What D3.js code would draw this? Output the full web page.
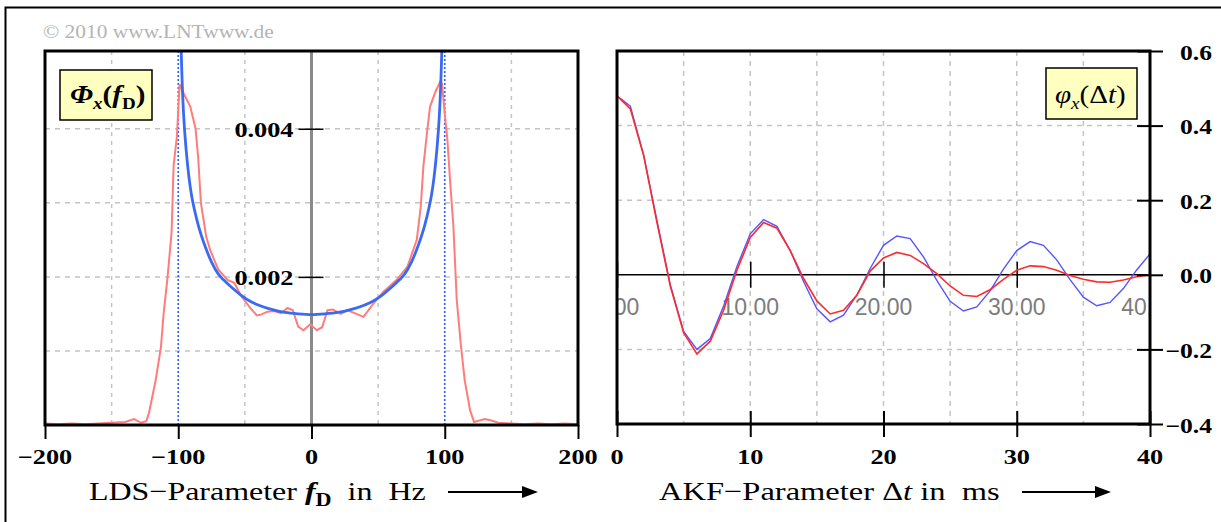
<!DOCTYPE html>
<html>
<head>
<meta charset="utf-8">
<script src="https://cdn.jsdelivr.net/npm/d3@7"></script>
<style>
  body { margin: 0; background: #fff; }
  svg { display: block; }
  text { white-space: pre; }
</style>
</head>
<body>
<svg id="chart"></svg>
<script>
// ---- data ----
// LDS (power spectral density), theory (blue)
const ldsF    = [-99.5, -99, -98, -97, -96, -94, -92, -90, -88, -85, -80, -75, -70, -66, -60, -52, -45, -40, -30, -20, -10, 0,
                 10, 20, 30, 40, 45, 52, 60, 66, 70, 75, 80, 85, 88, 90, 92, 94, 96, 97, 98, 99, 99.5];
const ldsBlue = [0.0075, 0.0062, 0.0052, 0.0046, 0.0042, 0.0037, 0.00335, 0.0031, 0.00292, 0.0027, 0.00242, 0.0022,
                 0.00204, 0.00196, 0.00186, 0.00174, 0.00166, 0.00162, 0.00156, 0.00152, 0.0015, 0.00149,
                 0.0015, 0.00152, 0.00156, 0.00162, 0.00166, 0.00174, 0.00186, 0.00196, 0.00204, 0.0022, 0.00242,
                 0.0027, 0.00292, 0.0031, 0.00335, 0.0037, 0.0042, 0.0046, 0.0052, 0.0062, 0.0075];
// LDS, simulation (red)
const ldsRedF = [-200, -190, -180, -170, -160, -150, -140, -133, -128, -124, -122, -117, -113, -111, -108, -105, -103.5,
                 -101, -99, -96, -91, -87, -85, -83, -79, -76, -70, -63, -58, -53, -46, -41, -38, -33, -28, -23, -18,
                 -14, -10, -6, -1, 4, 8, 12, 16, 22, 27, 31, 39, 46, 54, 64, 72, 79, 82, 84, 87, 89, 93, 97, 98,
                 100, 102, 104, 106.5, 109, 112, 115, 119, 122, 130, 135, 140, 150, 160, 170, 180, 190, 200];
const ldsRed  = [0.00002, 0.00001, 0.00002, 0.00001, 0.00002, 0.00003, 0.00004, 0.00008, 0.00003, 0.00005, 0.00016,
                 0.0006, 0.00105, 0.0015, 0.002, 0.0026, 0.0035, 0.0039, 0.0046, 0.00448, 0.0043, 0.004, 0.0036,
                 0.003, 0.00254, 0.00236, 0.0021, 0.00196, 0.00192, 0.00175, 0.00158, 0.00148, 0.00149, 0.00153,
                 0.00154, 0.00151, 0.00158, 0.00155, 0.00133, 0.00128, 0.00136, 0.00128, 0.00132, 0.00155, 0.00156,
                 0.0015, 0.00155, 0.00152, 0.00146, 0.00163, 0.0018, 0.00196, 0.00214, 0.0025, 0.00295, 0.0035,
                 0.004, 0.0043, 0.0045, 0.00465, 0.0046, 0.0042, 0.00385, 0.0033, 0.00268, 0.00169, 0.0011, 0.0006,
                 0.0002, 0.00004, 0.00008, 0.00006, 0.00003, 0.00002, 0.00001, 0.00002, 0.00001, 0.00002, 0.00001];

// AKF (autocorrelation), sampled every ms
const akfT    = [0, 1, 2, 3, 4, 5, 6, 7, 8, 9, 10, 11, 12, 13, 14, 15, 16, 17, 18, 19, 20,
                 21, 22, 23, 24, 25, 26, 27, 28, 29, 30, 31, 32, 33, 34, 35, 36, 37, 38, 39, 40];
const akfBlue = [0.48, 0.452, 0.321, 0.145, -0.027, -0.152, -0.2, -0.171, -0.084, 0.022, 0.11, 0.148, 0.13, 0.065,
                 -0.018, -0.091, -0.126, -0.108, -0.054, 0.017, 0.079, 0.104, 0.097, 0.048, -0.015, -0.071, -0.097,
                 -0.086, -0.043, 0.015, 0.065, 0.089, 0.079, 0.04, -0.013, -0.06, -0.083, -0.074, -0.037, 0.013, 0.056];
const akfRed  = [0.48, 0.445, 0.32, 0.14, -0.03, -0.155, -0.212, -0.178, -0.095, 0.012, 0.1, 0.14, 0.125, 0.065,
                 -0.01, -0.07, -0.105, -0.095, -0.055, 0.01, 0.045, 0.06, 0.052, 0.03, 0.003, -0.03, -0.055, -0.058,
                 -0.04, -0.012, 0.012, 0.024, 0.022, 0.012, -0.002, -0.012, -0.019, -0.02, -0.014, -0.005, 0.0];

// ticks
const ldsXTicks = [-200, -100, 0, 100, 200];
const ldsYTicks = [0.002, 0.004];
const ldsXGrid  = [-150, -50, 50, 150];
const ldsYGrid  = [0.001, 0.002, 0.003, 0.004];
const akfXTicks = [0, 10, 20, 30, 40];
const akfYTicks = [0.6, 0.4, 0.2, 0.0, -0.2, -0.4];
const akfXGrid  = [5, 10, 15, 20, 25, 30, 35];
const akfYGrid  = [0.4, 0.2, -0.2];

// ---- layout ----
const W = 1221, H = 522;
const svg = d3.select("#chart").attr("width", W).attr("height", H);
const serif = "'Liberation Serif', 'Times New Roman', serif";

const L = {x0: 45, x1: 578, y0: 51, y1: 425};
const R = {x0: 617, x1: 1150, y0: 51, y1: 424};

const xL = d3.scaleLinear().domain([-200, 200]).range([L.x0, L.x1]);
const yL = d3.scaleLinear().domain([0, 0.00505]).range([L.y1, L.y0]);
const xR = d3.scaleLinear().domain([0, 40]).range([R.x0, R.x1]);
const yR = d3.scaleLinear().domain([-0.4, 0.6]).range([R.y1, R.y0]);

const minus = s => String(s).replace("-", "\u2212");

// outer frame (only top and left visible)
svg.append("path").attr("d", `M5.5,${H} V7.5 H${W}`).attr("fill", "none").attr("stroke", "#000").attr("stroke-width", 2);

svg.append("text")
  .attr("transform", "translate(43,38) scale(1.19,1)")
  .attr("font-family", serif).attr("font-size", 18).attr("fill", "#b4b4b4")
  .text("\u00a9 2010 www.LNTwww.de");

const defs = svg.append("defs");
defs.append("clipPath").attr("id", "clipL").append("rect")
  .attr("x", L.x0).attr("y", L.y0).attr("width", L.x1 - L.x0).attr("height", L.y1 - L.y0);
defs.append("clipPath").attr("id", "clipR").append("rect")
  .attr("x", R.x0).attr("y", R.y0).attr("width", R.x1 - R.x0).attr("height", R.y1 - R.y0);

// helper for the wide bold serif numbers
function num(g, x, y, txt, anchor, size, sx) {
  g.append("text")
    .attr("transform", `translate(${x},${y}) scale(${sx || 1.25},1)`)
    .attr("text-anchor", anchor)
    .attr("font-family", serif).attr("font-weight", "bold").attr("font-size", size || 21)
    .text(txt);
}

// ================= left panel: LDS =================
const gL = svg.append("g");
const gLc = gL.append("g").attr("clip-path", "url(#clipL)");

gLc.selectAll(".vgrid").data(ldsXGrid).enter().append("line")
  .attr("x1", d => xL(d)).attr("x2", d => xL(d)).attr("y1", L.y0).attr("y2", L.y1)
  .attr("stroke", "#c4c4c4").attr("stroke-width", 1.5).attr("stroke-dasharray", "4,5");
gLc.selectAll(".hgrid").data(ldsYGrid).enter().append("line")
  .attr("x1", L.x0).attr("x2", L.x1).attr("y1", d => yL(d)).attr("y2", d => yL(d))
  .attr("stroke", "#c4c4c4").attr("stroke-width", 1.5).attr("stroke-dasharray", "5,5");

// f = 0 axis
gLc.append("line").attr("x1", xL(0)).attr("x2", xL(0)).attr("y1", L.y0).attr("y2", L.y1)
  .attr("stroke", "#8a8a8a").attr("stroke-width", 3);

// dotted lines at the Doppler frequency
gLc.selectAll(".fd").data([-100, 100]).enter().append("line")
  .attr("x1", d => xL(d)).attr("x2", d => xL(d)).attr("y1", L.y0).attr("y2", L.y1)
  .attr("stroke", "#2a5cff").attr("stroke-width", 1.6).attr("stroke-dasharray", "2,2");

const lineL = d3.line().x(d => xL(d[0])).y(d => yL(d[1]));
gLc.append("path").datum(d3.zip(ldsRedF, ldsRed)).attr("d", lineL.curve(d3.curveLinear))
  .attr("fill", "none").attr("stroke", "#ff7c7c").attr("stroke-width", 2);
gLc.append("path").datum(d3.zip(ldsF, ldsBlue)).attr("d", lineL.curve(d3.curveMonotoneX))
  .attr("fill", "none").attr("stroke", "#3a6af2").attr("stroke-width", 2.8);

// y ticks on the f = 0 axis
gL.append("g").attr("transform", `translate(${xL(0) + 12},0)`)
  .call(d3.axisLeft(yL).tickValues(ldsYTicks).tickSize(25).tickFormat(""))
  .call(g => g.select(".domain").remove())
  .selectAll("line").attr("stroke", "#000").attr("stroke-width", 1.5);
ldsYTicks.forEach(v => num(gL, xL(0) - 18, yL(v) + 8, d3.format(".3f")(v), "end"));

// frame
gL.append("rect").attr("x", L.x0).attr("y", L.y0).attr("width", L.x1 - L.x0).attr("height", L.y1 - L.y0)
  .attr("fill", "none").attr("stroke", "#000").attr("stroke-width", 3);

// x axis
gL.append("g").attr("transform", `translate(0,${L.y1})`)
  .call(d3.axisBottom(xL).tickValues(ldsXTicks).tickSize(14).tickFormat(""))
  .call(g => g.select(".domain").remove())
  .selectAll("line").attr("stroke", "#000").attr("stroke-width", 2);
ldsXTicks.forEach(v => num(gL, xL(v), 464, minus(v), "middle"));

// label box
gL.append("rect").attr("x", 60).attr("y", 70).attr("width", 92).attr("height", 50)
  .attr("fill", "#ffffc0").attr("stroke", "#000").attr("stroke-width", 1.5);
const tL = gL.append("text").attr("transform", "translate(70,103) scale(1.12,1)")
  .attr("font-family", serif).attr("font-weight", "bold").attr("font-size", 26);
tL.append("tspan").attr("font-style", "italic").text("\u03a6");
tL.append("tspan").attr("font-style", "italic").attr("font-size", 17).attr("dy", 6).text("x");
tL.append("tspan").attr("dy", -6).text("(");
tL.append("tspan").attr("font-style", "italic").text("f");
tL.append("tspan").attr("font-size", 17).attr("dy", 6).text("D");
tL.append("tspan").attr("dy", -6).text(")");

// axis title
const xtL = gL.append("text").attr("transform", "translate(89,500) scale(1.23,1)")
  .attr("font-family", serif).attr("font-size", 26);
xtL.append("tspan").text("LDS\u2212Parameter ");
xtL.append("tspan").attr("font-weight", "bold").attr("font-style", "italic").text("f");
xtL.append("tspan").attr("font-weight", "bold").attr("font-size", 18).attr("dy", 6).text("D");
xtL.append("tspan").attr("dy", -6).text("  in  Hz");

function arrow(g, xa, xb, y) {
  g.append("line").attr("x1", xa).attr("x2", xb - 12).attr("y1", y).attr("y2", y)
    .attr("stroke", "#000").attr("stroke-width", 2);
  g.append("path").attr("d", `M${xb},${y} L${xb - 16},${y - 6} L${xb - 16},${y + 6} Z`).attr("fill", "#000");
}
arrow(gL, 448, 538, 492);

// ================= right panel: AKF =================
const gR = svg.append("g");
const gRc = gR.append("g").attr("clip-path", "url(#clipR)");

gRc.selectAll(".vgrid").data(akfXGrid).enter().append("line")
  .attr("x1", d => xR(d)).attr("x2", d => xR(d)).attr("y1", R.y0).attr("y2", R.y1)
  .attr("stroke", "#c4c4c4").attr("stroke-width", 1.5).attr("stroke-dasharray", "5,5");
gRc.selectAll(".hgrid").data(akfYGrid).enter().append("line")
  .attr("x1", R.x0).attr("x2", R.x1).attr("y1", d => yR(d)).attr("y2", d => yR(d))
  .attr("stroke", "#c4c4c4").attr("stroke-width", 1.5).attr("stroke-dasharray", "5,5");

// zero line with ticks
gRc.append("line").attr("x1", R.x0).attr("x2", R.x1).attr("y1", yR(0)).attr("y2", yR(0))
  .attr("stroke", "#000").attr("stroke-width", 1.5);
gRc.append("g").attr("transform", `translate(0,${yR(0) + 13})`)
  .call(d3.axisTop(xR).tickValues(akfXTicks).tickSize(26).tickFormat(""))
  .call(g => g.select(".domain").remove())
  .selectAll("line").attr("stroke", "#000").attr("stroke-width", 1.5);

// grey value labels under the zero line
gRc.selectAll(".glab").data(akfXTicks).enter().append("text")
  .attr("x", d => xR(d)).attr("y", yR(0) + 40)
  .attr("text-anchor", "middle")
  .attr("font-family", "'Liberation Sans', Arial, sans-serif").attr("font-size", 23).attr("fill", "#7c7c7c")
  .text(d => d3.format(".2f")(d));

const lineR = d3.line().x(d => xR(d[0])).y(d => yR(d[1]));
gRc.append("path").datum(d3.zip(akfT, akfBlue)).attr("d", lineR)
  .attr("fill", "none").attr("stroke", "#5555ff").attr("stroke-width", 1.4);
gRc.append("path").datum(d3.zip(akfT, akfRed)).attr("d", lineR)
  .attr("fill", "none").attr("stroke", "#ff2a2a").attr("stroke-width", 1.6);

// frame
gR.append("rect").attr("x", R.x0).attr("y", R.y0).attr("width", R.x1 - R.x0).attr("height", R.y1 - R.y0)
  .attr("fill", "none").attr("stroke", "#000").attr("stroke-width", 3);

// right y axis
gR.append("g").attr("transform", `translate(${R.x1 + 13},0)`)
  .call(d3.axisLeft(yR).tickValues(akfYTicks).tickSize(26).tickFormat(""))
  .call(g => g.select(".domain").remove())
  .selectAll("line").attr("stroke", "#000").attr("stroke-width", 2);
akfYTicks.forEach(v => num(gR, 1212, yR(v) + 8.5, minus(d3.format(".1f")(v)), "end", 21, 1.22));

// bottom x axis
gR.append("g").attr("transform", `translate(0,${R.y1 + 13})`)
  .call(d3.axisTop(xR).tickValues(akfXTicks).tickSize(26).tickFormat(""))
  .call(g => g.select(".domain").remove())
  .selectAll("line").attr("stroke", "#000").attr("stroke-width", 2);
akfXTicks.forEach(v => num(gR, xR(v), 464, String(v), "middle"));

// label box
gR.append("rect").attr("x", 1046).attr("y", 68).attr("width", 91).attr("height", 51)
  .attr("fill", "#ffffc0").attr("stroke", "#000").attr("stroke-width", 1.5);
const tR = gR.append("text").attr("transform", "translate(1055,103) scale(1.12,1)")
  .attr("font-family", serif).attr("font-size", 26);
tR.append("tspan").attr("font-style", "italic").text("\u03c6");
tR.append("tspan").attr("font-style", "italic").attr("font-size", 17).attr("dy", 6).text("x");
tR.append("tspan").attr("dy", -6).text("(\u0394");
tR.append("tspan").attr("font-style", "italic").text("t");
tR.append("tspan").text(")");

// axis title
const xtR = gR.append("text").attr("transform", "translate(659,500) scale(1.25,1)")
  .attr("font-family", serif).attr("font-size", 26);
xtR.append("tspan").text("AKF\u2212Parameter \u0394");
xtR.append("tspan").attr("font-style", "italic").text("t");
xtR.append("tspan").text(" in  ms");
arrow(gR, 1022, 1111, 492);
</script>
</body>
</html>
